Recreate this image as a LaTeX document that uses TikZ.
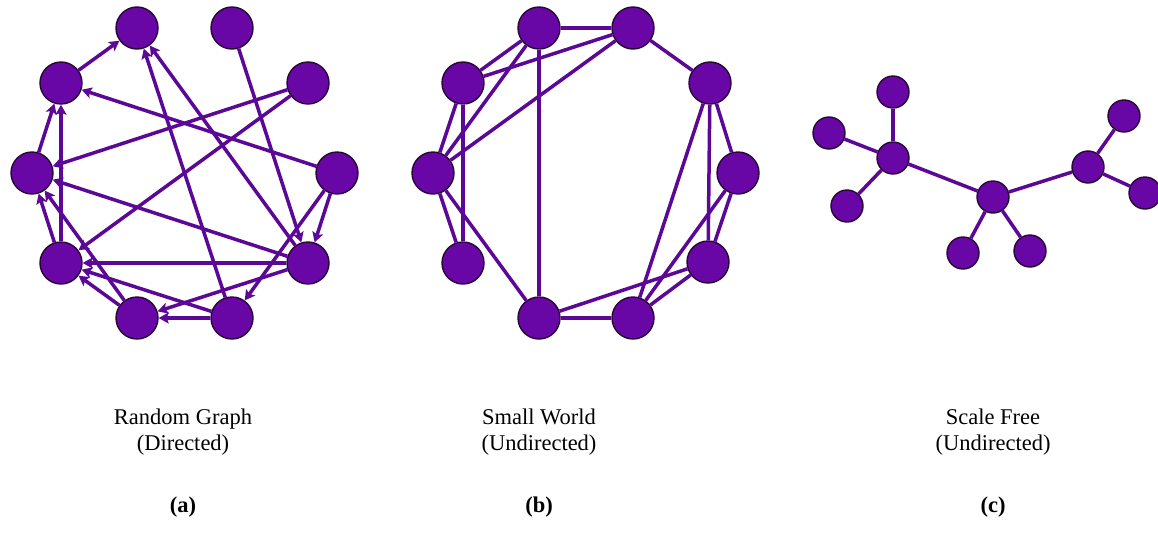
\documentclass[tikz,border=0pt]{standalone}
\usepackage{fontspec}
\setmainfont{Liberation Serif}
\usetikzlibrary{arrows.meta}
\definecolor{nodefill}{RGB}{104,6,166}
\definecolor{edgecol}{RGB}{92,8,150}
\definecolor{rimcol}{RGB}{38,8,52}
\tikzset{
  bignode/.style={circle,fill=nodefill,draw=rimcol,line width=1.4pt,minimum size=42pt,inner sep=0pt},
  smallnode/.style={circle,fill=nodefill,draw=rimcol,line width=1.4pt,minimum size=32pt,inner sep=0pt},
  edge/.style={draw=edgecol,line width=3.5pt},
  arc/.style={edge,-{Stealth[length=10pt,width=11pt,inset=2pt]}},
  caption/.style={align=center,font=\fontsize{22.5}{26}\selectfont},
  tag/.style={font=\fontsize{22.5}{26}\selectfont\bfseries}
}
\begin{document}
\begin{tikzpicture}[x=1pt,y=-1pt]
\useasboundingbox (0,0) rectangle (1158,533);
% (a) random graph
\foreach \n/\x/\y in {A1/137/28,A2/232/28,A3/61/83,A4/308/83,A5/32/173,A6/337/173,A7/61/263,A8/308/263,A9/137/318,A10/232/318}
  \node[bignode] (\n) at (\x,\y) {};
\foreach \s/\t in {A3/A1,A10/A1,A8/A1,A2/A8,A4/A5,A4/A7,A6/A3,A5/A3,A7/A3,A8/A5,A7/A5,A9/A5,A8/A7,A10/A7,A9/A7,A10/A9,A8/A9,A6/A10,A6/A8}
  \draw[arc] (\s) -- (\t);
% (b) small world
\foreach \n/\x/\y in {B1/539/28,B2/633/28,B3/463/83,B4/710/83,B5/433/173,B6/738/173,B7/463/263,B8/708/262,B9/539/318,B10/633/318}
  \node[bignode] (\n) at (\x,\y) {};
\foreach \s/\t in {B1/B2,B2/B4,B1/B3,B2/B3,B1/B5,B2/B5,B3/B5,B3/B7,B5/B7,B5/B9,B1/B9,B9/B10,B9/B8,B4/B10,B4/B8,B4/B6,B6/B10,B6/B8,B8/B10}
  \draw[edge] (\s) -- (\t);
% (c) scale free
\foreach \n/\x/\y in {C1/893/158,C2/893/92,C3/829/133,C4/847/206,C5/993/197,C6/963/253,C7/1030/251,C8/1088/167,C9/1124/116,C10/1145/193}
  \node[smallnode] (\n) at (\x,\y) {};
\foreach \s/\t in {C1/C2,C1/C3,C1/C4,C1/C5,C5/C6,C5/C7,C5/C8,C8/C9,C8/C10}
  \draw[edge] (\s) -- (\t);
% captions
\node[caption] (capa) at (183,432) {Random Graph\\(Directed)};
\node[caption] (capb) at (539,432) {Small World\\(Undirected)};
\node[caption] (capc) at (993,432) {Scale Free\\(Undirected)};
\node[tag] (taga) at (183,507) {(a)};
\node[tag] (tagb) at (539,507) {(b)};
\node[tag] (tagc) at (993,507) {(c)};
\end{tikzpicture}
\end{document}
